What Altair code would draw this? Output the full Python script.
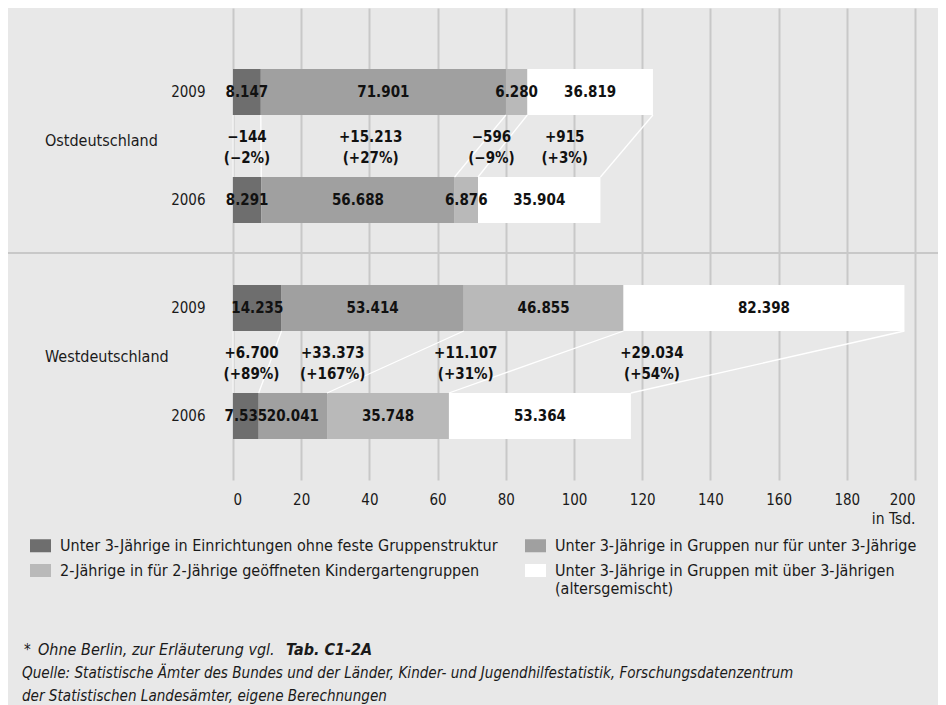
import altair as alt
import pandas as pd

FONT = "DejaVu Sans Condensed"
TXT = "#1a1a1a"

categories = [
    "Unter 3-Jährige in Einrichtungen ohne feste Gruppenstruktur",
    "Unter 3-Jährige in Gruppen nur für unter 3-Jährige",
    "2-Jährige in für 2-Jährige geöffneten Kindergartengruppen",
    "Unter 3-Jährige in Gruppen mit über 3-Jährigen (altersgemischt)",
]
colors = ["#6e6e6e", "#a0a0a0", "#b9b9b9", "#ffffff"]

regions = ["Ostdeutschland", "Westdeutschland"]
years = ["2009", "2006"]

ost_2009 = [8147, 71901, 6280, 36819]
ost_2006 = [8291, 56688, 6876, 35904]
west_2009 = [14235, 53414, 46855, 82398]
west_2006 = [7535, 20041, 35748, 53364]

ost_change = ["\u2212144", "+15.213", "\u2212596", "+915"]
ost_change_pct = ["(\u22122%)", "(+27%)", "(\u22129%)", "(+3%)"]
west_change = ["+6.700", "+33.373", "+11.107", "+29.034"]
west_change_pct = ["(+89%)", "(+167%)", "(+31%)", "(+54%)"]

values = {
    ("Ostdeutschland", "2009"): ost_2009,
    ("Ostdeutschland", "2006"): ost_2006,
    ("Westdeutschland", "2009"): west_2009,
    ("Westdeutschland", "2006"): west_2006,
}
changes = {
    "Ostdeutschland": (ost_change, ost_change_pct),
    "Westdeutschland": (west_change, west_change_pct),
}

rows = [f"{r} {y}" for r in regions for y in years]


def cum(vals):
    out = [0.0]
    for v in vals:
        out.append(out[-1] + v / 1000.0)
    return out


bar_records = []
for r in regions:
    for y in years:
        vals = values[(r, y)]
        c = cum(vals)
        for i, cat in enumerate(categories):
            bar_records.append({
                "row": f"{r} {y}", "cat": cat, "start": c[i], "end": c[i + 1],
                "mid": (c[i] + c[i + 1]) / 2,
                "label": f"{vals[i]:,}".replace(",", "."),
            })
bars_df = pd.DataFrame(bar_records)

change_records = []
line_records = []
for r in regions:
    c09 = cum(values[(r, "2009")])
    c06 = cum(values[(r, "2006")])
    ch, pct = changes[r]
    for i in range(len(categories)):
        m09 = (c09[i] + c09[i + 1]) / 2
        m06 = (c06[i] + c06[i + 1]) / 2
        change_records.append({"row09": f"{r} 2009", "x": (m09 + m06) / 2,
                               "txt": [ch[i], pct[i]]})
    for j in range(len(c09)):
        line_records.append({"row09": f"{r} 2009", "row06": f"{r} 2006",
                             "x09": c09[j], "x06": c06[j]})
change_df = pd.DataFrame(change_records)
lines_df = pd.DataFrame(line_records)
group_df = pd.DataFrame({"row09": [f"{r} 2009" for r in regions], "name": regions})

yscale = alt.Scale(domain=rows, paddingInner=0.574, paddingOuter=0.472, align=0.598)
xscale = alt.Scale(domain=[0, 200], nice=False)

bars = alt.Chart(bars_df).mark_bar().encode(
    x=alt.X("start:Q", scale=xscale,
            axis=alt.Axis(values=list(range(0, 201, 20)), grid=True, gridColor="#c8c8c8",
                          gridWidth=2, domain=False, ticks=False, tickSize=0,
                          labelPadding=12, labelFontSize=15, labelColor=TXT, labelFont=FONT,
                          title="in Tsd.", titleAnchor="end", titleFontWeight="normal",
                          titleFontSize=15.5, titleColor=TXT, titleFont=FONT, titlePadding=4)),
    x2="end:Q",
    y=alt.Y("row:N", scale=yscale, sort=rows,
            axis=alt.Axis(title=None, domain=False, ticks=False, tickSize=0, labelPadding=28,
                          labelFontSize=15, labelColor=TXT, labelFont=FONT,
                          labelExpr="substring(datum.label, length(datum.label) - 4)")),
    color=alt.Color("cat:N", scale=alt.Scale(domain=categories, range=colors),
                    legend=alt.Legend(
                        title=None, orient="none", legendX=-203, legendY=527, columns=2,
                        columnPadding=27, rowPadding=6, direction="horizontal",
                        symbolType="M-1,-0.62H1V0.62H-1Z", symbolSize=441,
                        symbolStrokeWidth=0, symbolOpacity=1, labelOffset=9,
                        labelFontSize=16, labelFont=FONT, labelColor=TXT, labelLimit=600,
                        labelExpr="split(replace(datum.label, ' (altersgemischt)', '|(altersgemischt)'), '|')")),
)

bar_text = alt.Chart(bars_df).mark_text(
    font=FONT, fontSize=15, fontWeight="bold", color="#111111"
).encode(
    x=alt.X("mid:Q", scale=xscale),
    y=alt.Y("row:N", scale=yscale, sort=rows),
    text="label:N",
)

conn = alt.Chart(lines_df).mark_rule(color="#ffffff", strokeWidth=1.3).encode(
    x=alt.X("x09:Q", scale=xscale),
    x2="x06:Q",
    y=alt.Y("row09:N", scale=yscale, sort=rows, bandPosition=1),
    y2=alt.Y2("row06:N", bandPosition=0),
)

change_text = alt.Chart(change_df).mark_text(
    font=FONT, fontSize=15, fontWeight="bold", color="#111111", dy=22,
    baseline="middle", lineHeight=21,
).encode(
    x=alt.X("x:Q", scale=xscale),
    y=alt.Y("row09:N", scale=yscale, sort=rows, bandPosition=1),
    text="txt",
)

group_text = alt.Chart(group_df).mark_text(
    font=FONT, fontSize=16, color=TXT, align="left", dy=26,
).encode(
    x=alt.value(-188),
    y=alt.Y("row09:N", scale=yscale, sort=rows, bandPosition=1),
    text="name:N",
)

one = pd.DataFrame({"a": [0]})
separator = alt.Chart(one).mark_rule(color="#c8c8c8", strokeWidth=2).encode(
    x=alt.value(-233), x2=alt.value(713), y=alt.value(245)
)

foot_style = dict(font=FONT, fontStyle="italic", color=TXT,
                  align="left", baseline="middle")
foot1a = alt.Chart(one).mark_text(text="*", fontSize=15, **foot_style).encode(
    x=alt.value(-209), y=alt.value(642))
foot1b = alt.Chart(one).mark_text(text="Ohne Berlin, zur Erläuterung vgl.", fontSize=16,
                                  **foot_style).encode(x=alt.value(-195), y=alt.value(642))
foot1c = alt.Chart(one).mark_text(text="Tab. C1-2A", fontSize=16, fontWeight="bold",
                                  **foot_style).encode(x=alt.value(53), y=alt.value(642))
foot2 = alt.Chart(one).mark_text(
    text="Quelle: Statistische Ämter des Bundes und der Länder, Kinder- und Jugendhilfestatistik, Forschungsdatenzentrum",
    fontSize=15.1, **foot_style).encode(x=alt.value(-211), y=alt.value(665))
foot3 = alt.Chart(one).mark_text(
    text="der Statistischen Landesämter, eigene Berechnungen", fontSize=15.1, **foot_style
).encode(x=alt.value(-211), y=alt.value(688))

chart = alt.layer(
    separator, bars, conn, bar_text, change_text, group_text,
    foot1a, foot1b, foot1c, foot2, foot3,
).properties(
    width=682, height=472,
    autosize=alt.AutoSizeParams(type="none"),
    padding={"left": 225, "top": 0, "right": 23, "bottom": 235},
).configure(
    background="#e8e8e8", font=FONT,
).configure_view(strokeWidth=0)

chart.save("out.html", embed_options={"renderer": "svg", "actions": False})
